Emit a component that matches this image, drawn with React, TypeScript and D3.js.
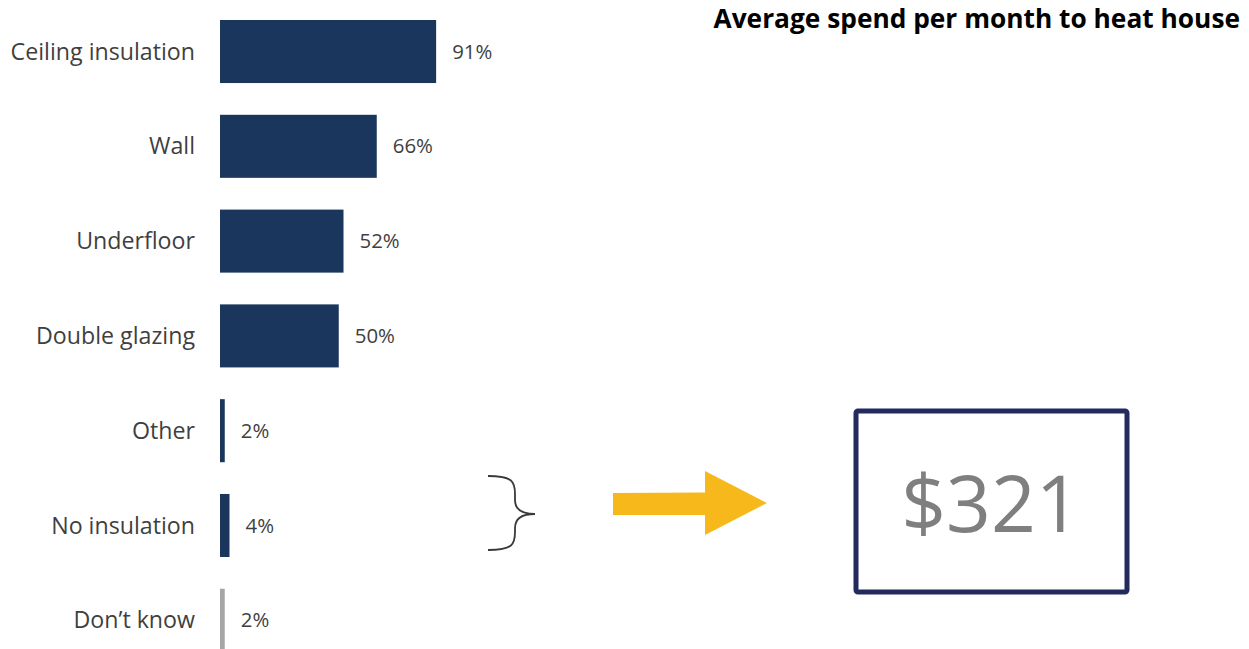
import React from "react";
import * as d3 from "d3";

const categories = ["Ceiling insulation", "Wall", "Underfloor", "Double glazing", "Other", "No insulation", "Don\u2019t know"];
const values = [91, 66, 52, 50, 2, 4, 2];
const barColors = ["#1b365d", "#1b365d", "#1b365d", "#1b365d", "#1b365d", "#1b365d", "#a6a6a6"];
const title = "Average spend per month to heat house";
const spendValue = "$321";

const W = 1249;
const H = 649;
const FONT = "'Open Sans', 'Liberation Sans', sans-serif";

export default function App() {
  const x = d3.scaleLinear().domain([0, 100]).range([220, 220 + 237.5]);
  const y = d3.scaleBand<string>().domain(categories).range([20, 651.8]).paddingInner(0.335).paddingOuter(0);
  const bw = y.bandwidth();

  // brace path
  const bx = 488, byTop = 476, byBot = 550, bMid = 514, bxm = 515, bxr = 535;
  const brace = `M${bx},${byTop} C${bxm - 2},${byTop} ${bxm},${byTop + 6} ${bxm},${byTop + 18} L${bxm},${bMid - 14} C${bxm},${bMid - 4} ${bxm + 8},${bMid} ${bxr},${bMid} C${bxm + 8},${bMid} ${bxm},${bMid + 4} ${bxm},${bMid + 14} L${bxm},${byBot - 18} C${bxm},${byBot - 6} ${bxm - 2},${byBot} ${bx},${byBot}`;

  const arrow = `M613,493 L705,492.5 L705,471 L767,503 L705,535 L705,515 L613,515 Z`;

  return (
    <svg width={W} height={H} style={{ position: "absolute", left: 0, top: 0, display: "block" }}>
      <rect x={0} y={0} width={W} height={H} fill="#ffffff" />
      {categories.map((c, i) => {
        const yy = y(c)!;
        const w = Math.max(x(values[i]) - x(0), 3);
        const cy = yy + bw / 2;
        return (
          <g key={c}>
            <rect x={x(0)} y={yy} width={w} height={bw} fill={barColors[i]} />
            <text x={195} y={cy} dy="0.35em" textAnchor="end" fontFamily={FONT} fontSize={23.2} fill="#3f3f3f">
              {c}
            </text>
            <text x={x(0) + w + 16} y={cy} dy="0.35em" textAnchor="start" fontFamily={FONT} fontSize={20.4} fill="#3f3f3f">
              {values[i]}%
            </text>
          </g>
        );
      })}
      <text x={1240} y={28} textAnchor="end" fontFamily={FONT} fontSize={26.3} fontWeight="bold" fill="#000000">
        {title}
      </text>
      <path d={brace} fill="none" stroke="#3a3a3a" strokeWidth={1.8} />
      <path d={arrow} fill="#f7b81c" />
      <rect x={856} y={411} width={271} height={181} fill="#ffffff" stroke="#222a5e" strokeWidth={5} rx={2} />
      <text x={991} y={532} textAnchor="middle" fontFamily={FONT} fontSize={78.5} fill="#7f7f7f">
        {spendValue}
      </text>
    </svg>
  );
}
